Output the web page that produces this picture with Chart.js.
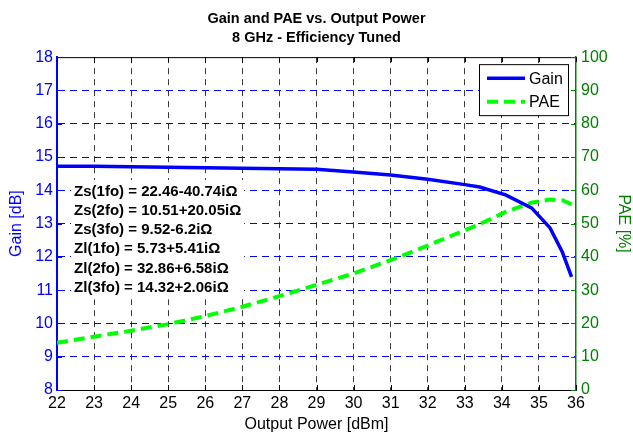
<!DOCTYPE html>
<html>
<head>
<meta charset="utf-8">
<script src="https://cdn.jsdelivr.net/npm/chart.js@4.4.0/dist/chart.umd.min.js"></script>
<style>
  html, body { margin: 0; padding: 0; background: #fff; }
</style>
</head>
<body>
<canvas id="gainPaeChart" width="633" height="437"></canvas>
<script>
// Output power sweep [dBm]
const outputPower = [22, 23, 24, 25, 26, 27, 28, 29, 30, 31, 32, 33, 33.4, 34.1, 34.8, 35.3, 35.63, 35.88];
// Gain [dB]
const gainDb = [14.72, 14.72, 14.71, 14.69, 14.68, 14.66, 14.65, 14.63, 14.55, 14.46, 14.33, 14.17, 14.1, 13.86, 13.47, 12.87, 12.15, 11.4];
// Power added efficiency [%]
const paePct = [14.2, 16.0, 17.8, 19.8, 22.2, 25.0, 28.2, 31.6, 35.0, 39.0, 43.4, 48.0, 49.8, 53.5, 56.3, 57.2, 57.0, 55.8];

// Axis ranges and tick steps
const powerTicks = [22, 36, 1];
const gainTicks = [8, 18, 1];
const paeTicks = [0, 100, 10];

const titleLines = ['Gain and PAE vs. Output Power', '8 GHz - Efficiency Tuned'];
const impedanceNotes = [
  'Zs(1fo) = 22.46-40.74i\u03A9',
  'Zs(2fo) = 10.51+20.05i\u03A9',
  'Zs(3fo) = 9.52-6.2i\u03A9',
  'Zl(1fo) = 5.73+5.41i\u03A9',
  'Zl(2fo) = 32.86+6.58i\u03A9',
  'Zl(3fo) = 14.32+2.06i\u03A9'
];

const FONT = '"Liberation Sans", Arial, Helvetica, sans-serif';
const BLUE = '#0000ff';
const GREEN = '#008000';
const LIME = '#00ff00';

function toPoints(xs, ys) {
  return xs.map((x, i) => ({ x: x, y: ys[i] }));
}

// hide grid lines that sit on the box edges
function innerOnly(color, lo, hi) {
  return (ctx) => {
    const v = ctx.tick ? ctx.tick.value : null;
    return (v === lo || v === hi) ? 'rgba(0,0,0,0)' : color;
  };
}

// box outline, inward tick marks and the text block
const frameAndTicks = {
  id: 'frameAndTicks',
  afterDatasetsDraw(chart) {
    const { ctx, chartArea: a, scales } = chart;
    const len = 5;
    ctx.save();
    ctx.lineWidth = 1;

    // top edge
    ctx.strokeStyle = '#000';
    ctx.beginPath();
    ctx.moveTo(a.left, a.top + 0.5);
    ctx.lineTo(a.right, a.top + 0.5);
    ctx.stroke();

    // x ticks, bottom and top
    ctx.beginPath();
    scales.x.ticks.forEach(t => {
      const px = Math.round(scales.x.getPixelForValue(t.value)) + 0.5;
      ctx.moveTo(px, a.bottom); ctx.lineTo(px, a.bottom - len);
      ctx.moveTo(px, a.top); ctx.lineTo(px, a.top + len);
    });
    ctx.stroke();

    // gain ticks on the left
    ctx.strokeStyle = BLUE;
    ctx.beginPath();
    scales.yGain.ticks.forEach(t => {
      const py = Math.round(scales.yGain.getPixelForValue(t.value)) + 0.5;
      ctx.moveTo(a.left, py); ctx.lineTo(a.left + len, py);
    });
    ctx.stroke();

    // PAE ticks on the right
    ctx.strokeStyle = GREEN;
    ctx.beginPath();
    scales.yPae.ticks.forEach(t => {
      const py = Math.round(scales.yPae.getPixelForValue(t.value)) + 0.5;
      ctx.moveTo(a.right, py); ctx.lineTo(a.right - len, py);
    });
    ctx.stroke();

    // impedance notes on a white backing
    ctx.font = 'bold 15px ' + FONT;
    ctx.textAlign = 'left';
    ctx.textBaseline = 'middle';
    const x0 = scales.x.getPixelForValue(22.46);
    const y0 = scales.yGain.getPixelForValue(13.96);
    const lineH = 19.2;
    const textW = Math.max(...impedanceNotes.map(s => ctx.measureText(s).width));
    ctx.fillStyle = '#fff';
    ctx.fillRect(x0 - 3, y0 - lineH / 2 - 2, textW + 6, lineH * impedanceNotes.length + 4);
    ctx.fillStyle = '#000';
    impedanceNotes.forEach((s, i) => ctx.fillText(s, x0, y0 + i * lineH));
    ctx.restore();
  },
  afterDraw(chart) {
    // legend box in the top right corner
    const { ctx, chartArea: a } = chart;
    const w = 89, h = 51;
    const bx = a.right - 8 - w, by = a.top + 7;
    ctx.save();
    ctx.fillStyle = '#fff';
    ctx.fillRect(bx, by, w, h);
    ctx.strokeStyle = '#000';
    ctx.lineWidth = 1;
    ctx.strokeRect(bx + 0.5, by + 0.5, w, h);
    ctx.font = '16px ' + FONT;
    ctx.textBaseline = 'middle';
    ctx.fillStyle = '#000';
    chart.data.datasets.forEach((ds, i) => {
      const ly = by + 14 + i * 23.5;
      ctx.strokeStyle = ds.borderColor;
      ctx.lineWidth = ds.borderWidth;
      ctx.setLineDash(ds.borderDash || []);
      ctx.beginPath();
      ctx.moveTo(bx + 8, ly);
      ctx.lineTo(bx + 46, ly);
      ctx.stroke();
      ctx.fillText(ds.label, bx + 50, ly + 1);
    });
    ctx.restore();
  }
};

const ctx = document.getElementById('gainPaeChart').getContext('2d');
new Chart(ctx, {
  type: 'line',
  data: {
    datasets: [
      {
        label: 'Gain',
        data: toPoints(outputPower, gainDb),
        yAxisID: 'yGain',
        borderColor: BLUE,
        borderWidth: 3.5,
        pointRadius: 0,
        tension: 0,
        fill: false
      },
      {
        label: 'PAE',
        data: toPoints(outputPower, paePct),
        yAxisID: 'yPae',
        borderColor: LIME,
        borderWidth: 4,
        borderDash: [11, 6],
        pointRadius: 0,
        tension: 0,
        fill: false
      }
    ]
  },
  options: {
    responsive: false,
    animation: false,
    layout: { padding: 0 },
    plugins: {
      legend: { display: false },
      tooltip: { enabled: false },
      title: {
        display: true,
        text: titleLines,
        color: '#000',
        font: { family: FONT, size: 14.5, weight: 'bold', lineHeight: 1.35 },
        padding: { top: 9, bottom: 9 }
      }
    },
    scales: {
      x: {
        type: 'linear',
        min: powerTicks[0],
        max: powerTicks[1],
        ticks: { stepSize: powerTicks[2], color: '#000', font: { family: FONT, size: 16 }, padding: 4, maxRotation: 0 },
        grid: { color: innerOnly('#3a3a3a', powerTicks[0], powerTicks[1]), lineWidth: 1, drawTicks: false, borderDash: [6, 5] },
        border: { color: '#000', width: 1, dash: [6, 5] },
        title: { display: true, text: 'Output Power [dBm]', color: '#000', font: { family: FONT, size: 16 }, padding: { top: 0, bottom: 3 } },
        afterFit: (s) => { s.height = 47; }
      },
      yGain: {
        type: 'linear',
        position: 'left',
        min: gainTicks[0],
        max: gainTicks[1],
        ticks: { stepSize: gainTicks[2], color: BLUE, font: { family: FONT, size: 16 }, padding: 4 },
        grid: { color: innerOnly(BLUE, gainTicks[0], gainTicks[1]), lineWidth: 1, drawTicks: false, borderDash: [7, 5] },
        border: { color: BLUE, width: 2, dash: [7, 5] },
        title: { display: true, text: 'Gain [dB]', color: BLUE, font: { family: FONT, size: 16 }, padding: { top: 7, bottom: 0 } },
        afterFit: (s) => { s.width = 57; }
      },
      yPae: {
        type: 'linear',
        position: 'right',
        min: paeTicks[0],
        max: paeTicks[1],
        ticks: { stepSize: paeTicks[2], color: GREEN, font: { family: FONT, size: 16 }, padding: 5 },
        grid: { display: false, drawTicks: false },
        border: { color: GREEN, width: 1.5 },
        title: { display: true, text: 'PAE [%]', color: GREEN, font: { family: FONT, size: 16 }, padding: { top: 0, bottom: 0 } },
        afterFit: (s) => { s.width = 57; }
      }
    }
  },
  plugins: [frameAndTicks]
});
</script>
</body>
</html>
